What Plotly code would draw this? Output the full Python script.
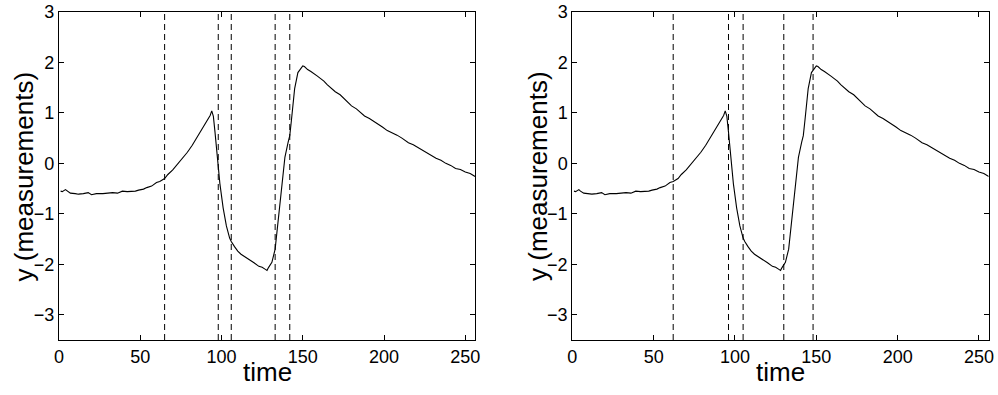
import plotly.graph_objects as go
from plotly.subplots import make_subplots

time = [1, 2, 4, 5, 7, 10, 12, 15, 18, 20, 23, 27, 30, 33, 36, 39, 42, 44, 47, 49,
        52, 54, 57, 60, 62, 65, 67, 70, 73, 76, 79, 82, 85, 88, 91, 93, 94, 95, 96, 97,
        98, 99, 101, 103, 105, 106, 108, 110, 112, 115, 118, 120, 123, 125, 127, 128, 129, 131, 133, 135,
        137, 139, 141, 142, 143, 145, 147, 149, 150, 151, 153, 155, 157, 159, 161, 163, 165, 168, 170, 173,
        175, 178, 180, 183, 185, 188, 191, 194, 196, 199, 202, 205, 208, 211, 215, 218, 220, 223, 226, 229,
        232, 235, 238, 241, 244, 247, 250, 253, 256]

measurements = [-0.55, -0.56, -0.52, -0.55, -0.59, -0.60, -0.61, -0.60, -0.58, -0.62,
                -0.60, -0.60, -0.59, -0.58, -0.59, -0.55, -0.56, -0.56, -0.55, -0.53,
                -0.51, -0.48, -0.45, -0.38, -0.36, -0.30, -0.22, -0.13, -0.02, 0.10,
                0.22, 0.36, 0.52, 0.68, 0.84, 0.95, 1.04, 0.93, 0.62, 0.26,
                -0.05, -0.40, -0.88, -1.24, -1.48, -1.55, -1.65, -1.74, -1.80, -1.86,
                -1.93, -1.97, -2.04, -2.06, -2.10, -2.12, -2.06, -1.96, -1.70, -1.10,
                -0.42, 0.12, 0.42, 0.55, 0.85, 1.48, 1.80, 1.90, 1.93, 1.92,
                1.86, 1.82, 1.78, 1.73, 1.68, 1.63, 1.56, 1.47, 1.42, 1.36,
                1.30, 1.20, 1.14, 1.08, 1.02, 0.94, 0.89, 0.83, 0.78, 0.72,
                0.65, 0.61, 0.56, 0.50, 0.41, 0.37, 0.33, 0.27, 0.21, 0.16,
                0.10, 0.06, 0.00, -0.04, -0.10, -0.12, -0.17, -0.20, -0.26]

change_points_left = [65, 98, 106, 133, 142]
change_points_right = [62, 96, 105, 130, 148]

x_ticks = [0, 50, 100, 150, 200, 250]
y_ticks = [-3, -2, -1, 0, 1, 2, 3]
x_range = [0, 256]
y_range = [-3.5, 3]
x_label = "time"
y_label = "y (measurements)"

FONT = "Liberation Sans, Arial, Helvetica, sans-serif"

fig = make_subplots(rows=1, cols=2)

for col, cps in ((1, change_points_left), (2, change_points_right)):
    for cp in cps:
        fig.add_trace(go.Scatter(x=[cp, cp], y=y_range, mode="lines",
                                 line=dict(color="black", width=1, dash="6px,4px"),
                                 showlegend=False, hoverinfo="skip"), row=1, col=col)
    fig.add_trace(go.Scatter(x=time, y=measurements, mode="lines",
                             line=dict(color="black", width=1.1),
                             showlegend=False), row=1, col=col)

axis_common = dict(showline=True, linecolor="black", linewidth=1.2, mirror="ticks",
                   ticks="inside", ticklen=5, tickcolor="black", tickwidth=1,
                   showgrid=False, zeroline=False, automargin=False,
                   tickfont=dict(family=FONT, size=18, color="black"))

for i, dom, ylab_x in ((1, [0.0591, 0.476], 0.0245), (2, [0.5735, 0.9907], 0.539)):
    xa = "xaxis" if i == 1 else "xaxis2"
    ya = "yaxis" if i == 1 else "yaxis2"
    fig.layout[xa].update(domain=dom, range=x_range, tickvals=x_ticks, **axis_common)
    fig.layout[ya].update(domain=[0, 1], range=y_range, tickvals=y_ticks, **axis_common)
    fig.add_annotation(text=x_label, xref=("x domain" if i == 1 else "x2 domain"), yref="paper",
                       x=0.5, y=-0.099, xanchor="center", yanchor="middle", showarrow=False,
                       font=dict(family=FONT, size=26, color="black"))
    fig.add_annotation(text=y_label, xref="paper", yref="paper", textangle=-90,
                       x=ylab_x, y=0.5, xanchor="center", yanchor="middle", showarrow=False,
                       font=dict(family=FONT, size=26, color="black"))

fig.update_layout(width=998, height=395, margin=dict(l=0, r=0, t=12, b=55),
                  plot_bgcolor="white", paper_bgcolor="white",
                  font=dict(family=FONT, color="black"))

fig.write_html("out.html", config={"displayModeBar": False},
               post_script="document.body.style.margin='0';document.body.style.overflow='hidden';")
